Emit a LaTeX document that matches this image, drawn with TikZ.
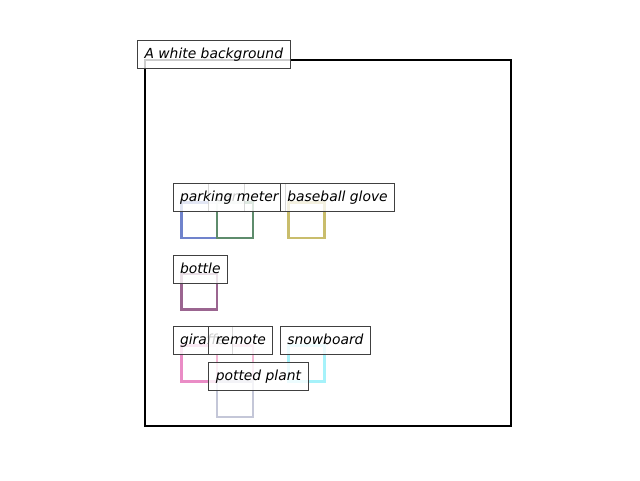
\documentclass[tikz,border=0pt]{standalone}
\usepackage{fontspec}
\setmainfont{DejaVu Sans}
\begin{document}
\begin{tikzpicture}[x=0.75pt,y=-0.75pt]
\definecolor{cblue}{HTML}{7083CC}
\definecolor{cgreen}{HTML}{5E8C6C}
\definecolor{colive}{HTML}{C9BD6C}
\definecolor{cpurple}{HTML}{9B6590}
\definecolor{cpink}{HTML}{EA8CC6}
\definecolor{clpink}{HTML}{F4B6D4}
\definecolor{ccyan}{HTML}{A6F2FA}
\definecolor{cslate}{HTML}{C4C7D8}
\tikzset{
  objbox/.style={draw=#1, line width=1.9pt, minimum width=26.85pt,
    minimum height=26.85pt, inner sep=0pt, anchor=north west},
  tag/.style={draw=black!75, line width=0.75pt, fill=white, fill opacity=0.8,
    text opacity=1, anchor=north west, minimum height=21pt, inner xsep=5.25pt,
    inner ysep=0pt, text height=7.6pt, text depth=1.4pt,
    font=\itshape\fontsize{10.4}{12}\selectfont},
  frame/.style={draw=black, line width=1.5pt, minimum width=274.5pt,
    minimum height=274.5pt, inner sep=0pt, anchor=north west}
}
\useasboundingbox (0,0) rectangle (640,480);

% outer frame
\node[frame] (bg) at (143.6,58.8) {};

% object boxes
\node[objbox=cblue]   (pm)  at (180,201)   {};
\node[objbox=cgreen]  (car) at (215.8,201) {};
\node[objbox=colive]  (bg1) at (287.4,201) {};
\node[objbox=cpurple] (bt)  at (180,272.6) {};
\node[objbox=cpink]   (gf)  at (180,344.2) {};
\node[objbox=clpink]  (rm)  at (215.8,344.2) {};
\node[objbox=ccyan]   (sb)  at (287.4,344.2) {};
\node[objbox=cslate]  (pp)  at (215.8,380) {};

% captions
\node[tag] (tbg)  at (137,40)      {A white background};
\node[tag] (tcar) at (208.3,183)   {car};
\node[tag] (tpm)  at (172.5,183)   {parking meter};
\node[tag] (tbgl) at (279.9,183)   {baseball glove};
\node[tag] (tbt)  at (172.5,254.6) {bottle};
\node[tag] (tgf)  at (172.5,326.2) {giraffe};
\node[tag] (trm)  at (208.3,326.2) {remote};
\node[tag] (tsb)  at (279.9,326.2) {snowboard};
\node[tag] (tpp)  at (208.3,362)   {potted plant};
\end{tikzpicture}
\end{document}
